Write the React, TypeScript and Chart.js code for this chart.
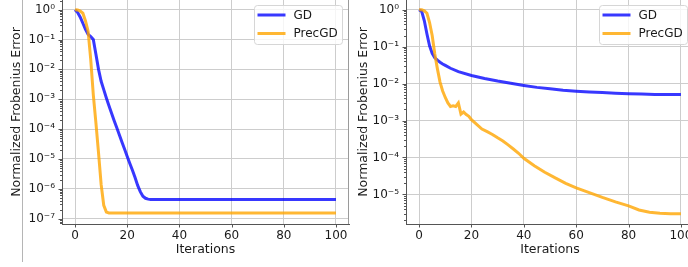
import React, { useEffect, useRef } from 'react';
import { Chart, registerables } from 'chart.js';

Chart.register(...registerables);

// ---------- data ----------
const seriesNames = ['GD', 'PrecGD'];
const xTickValues = [0, 20, 40, 60, 80, 100];

const leftYTickValues = [1, 1e-1, 1e-2, 1e-3, 1e-4, 1e-5, 1e-6, 1e-7];
const leftYTickLabels = ['10⁰', '10⁻¹', '10⁻²', '10⁻³', '10⁻⁴', '10⁻⁵', '10⁻⁶', '10⁻⁷'];
const rightYTickValues = [1, 1e-1, 1e-2, 1e-3, 1e-4, 1e-5];
const rightYTickLabels = ['10⁰', '10⁻¹', '10⁻²', '10⁻³', '10⁻⁴', '10⁻⁵'];

const leftGDIters = [0, 1, 2, 3, 4, 5, 6, 7, 8, 9, 10, 11, 12, 13, 14, 15, 16, 17, 18, 19, 20, 21, 22, 23, 24, 25, 26, 27, 28, 29, 30, 40, 50, 60, 70, 80, 90, 100];
const leftGDError = [1, 0.8, 0.56, 0.35, 0.22, 0.15, 0.125, 0.1, 0.032, 0.01, 4e-3, 2.1e-3, 1.1e-3, 6e-4, 3.4e-4, 1.9e-4, 1.1e-4, 6.3e-5, 3.6e-5, 2.1e-5, 1.2e-5, 7e-6, 4.2e-6, 2.4e-6, 1.3e-6, 8e-7, 5.6e-7, 4.8e-7, 4.5e-7, 4.4e-7, 4.4e-7, 4.4e-7, 4.4e-7, 4.4e-7, 4.4e-7, 4.4e-7, 4.4e-7, 4.4e-7];

const leftPrecIters = [0, 1, 2, 3, 4, 5, 6, 7, 8, 9, 10, 11, 12, 13, 20, 30, 40, 50, 60, 70, 80, 90, 100];
const leftPrecError = [1, 0.98, 0.9, 0.76, 0.42, 0.19, 0.022, 1.4e-3, 1.6e-4, 1.6e-5, 1.4e-6, 2.8e-7, 1.66e-7, 1.55e-7, 1.55e-7, 1.55e-7, 1.55e-7, 1.55e-7, 1.55e-7, 1.55e-7, 1.55e-7, 1.55e-7, 1.55e-7];

const rightGDIters = [0, 1, 2, 3, 4, 5, 6, 7, 8, 9, 10, 12, 15, 20, 25, 30, 35, 40, 45, 50, 55, 60, 65, 70, 75, 80, 85, 90, 95, 100];
const rightGDError = [1, 0.9, 0.5, 0.22, 0.105, 0.066, 0.05, 0.043, 0.038, 0.034, 0.031, 0.026, 0.021, 0.0166, 0.0138, 0.0117, 0.0102, 0.0089, 0.0079, 0.0072, 0.0066, 0.0062, 0.0059, 0.0057, 0.0055, 0.0053, 0.0052, 0.0051, 0.0051, 0.0051];

const rightPrecIters = [0, 1, 2, 3, 4, 5, 6, 7, 8, 9, 10, 11, 12, 13, 14, 15, 16, 17, 18, 19, 20, 22, 24, 26, 28, 30, 32, 34, 36, 38, 40, 44, 48, 52, 56, 60, 65, 70, 75, 80, 84, 88, 92, 96, 100];
const rightPrecError = [1, 1, 0.93, 0.8, 0.45, 0.2, 0.063, 0.025, 0.011, 6.3e-3, 4.2e-3, 3.0e-3, 2.4e-3, 2.5e-3, 2.4e-3, 3.0e-3, 1.5e-3, 1.7e-3, 1.45e-3, 1.3e-3, 1.05e-3, 7.9e-4, 5.9e-4, 5.0e-4, 4.2e-4, 3.4e-4, 2.8e-4, 2.2e-4, 1.7e-4, 1.3e-4, 9.5e-5, 6.0e-5, 4.0e-5, 2.8e-5, 2.0e-5, 1.5e-5, 1.12e-5, 8.3e-6, 6.3e-6, 4.9e-6, 3.8e-6, 3.3e-6, 3.1e-6, 3.0e-6, 3.0e-6];

// ---------- styling ----------
const FONT = '"DejaVu Sans", sans-serif';
const GD_COLOR = 'rgba(0,0,255,0.78)';
const PREC_COLOR = 'rgba(255,165,0,0.8)';
const TEXT_COLOR = '#1a1a1a';
const GRID_COLOR = '#cdcdcd';
const SPINE_COLOR = '#555555';

const zip = (xs: number[], ys: number[]) => xs.map((x, i) => ({ x, y: ys[i] }));

type PanelProps = {
  canvasLeft: number;
  canvasWidth: number;
  areaRight: number;
  yAxisWidth: number;
  yMinExp: number;
  yMaxExp: number;
  yTickValues: number[];
  yTickLabels: string[];
  gdIters: number[];
  gdError: number[];
  precIters: number[];
  precError: number[];
  yTitlePad: number;
};

function Panel(p: PanelProps) {
  const ref = useRef<HTMLCanvasElement | null>(null);
  useEffect(() => {
    if (!ref.current) return;
    const H = 267;
    const extras = {
      id: 'extras',
      afterDraw(chart: any) {
        const ctx = chart.ctx;
        const ca = chart.chartArea;
        const ys = chart.scales.y;
        const xs = chart.scales.x;
        ctx.save();
        // right & top spines
        ctx.strokeStyle = '#9a9a9a';
        ctx.lineWidth = 1;
        ctx.beginPath();
        ctx.moveTo(Math.round(ca.right) - 0.5, ca.top);
        ctx.lineTo(Math.round(ca.right) - 0.5, ca.bottom);
        ctx.stroke();
        // tick marks
        ctx.strokeStyle = SPINE_COLOR;
        ctx.beginPath();
        for (const v of p.yTickValues) {
          const y = Math.round(ys.getPixelForValue(v)) + 0.5;
          ctx.moveTo(ca.left - 3.5, y);
          ctx.lineTo(ca.left, y);
        }
        for (let e = Math.floor(p.yMinExp); e <= Math.ceil(p.yMaxExp); e++) {
          for (let k = 2; k <= 9; k++) {
            const v = k * Math.pow(10, e);
            if (Math.log10(v) < p.yMinExp || Math.log10(v) > p.yMaxExp) continue;
            const y = Math.round(ys.getPixelForValue(v)) + 0.5;
            ctx.moveTo(ca.left - 2, y);
            ctx.lineTo(ca.left, y);
          }
        }
        for (const v of xTickValues) {
          const x = Math.round(xs.getPixelForValue(v)) + 0.5;
          ctx.moveTo(x, ca.bottom);
          ctx.lineTo(x, ca.bottom + 3.5);
        }
        ctx.stroke();
        // legend
        const bw = 88, bh = 39;
        const bx = Math.round(ca.right - 7 - bw) + 0.5;
        const by = 5.5;
        ctx.fillStyle = 'rgba(255,255,255,0.8)';
        ctx.strokeStyle = '#d6d6d6';
        ctx.lineWidth = 1;
        ctx.beginPath();
        (ctx as any).roundRect(bx, by, bw, bh, 3);
        ctx.fill();
        ctx.stroke();
        const rows = [
          { name: seriesNames[0], color: GD_COLOR, y: 15 },
          { name: seriesNames[1], color: PREC_COLOR, y: 33.5 },
        ];
        ctx.font = `12px ${FONT}`;
        ctx.textBaseline = 'middle';
        ctx.textAlign = 'left';
        for (const r of rows) {
          ctx.strokeStyle = r.color;
          ctx.lineWidth = 3;
          ctx.beginPath();
          ctx.moveTo(bx + 3, r.y);
          ctx.lineTo(bx + 31, r.y);
          ctx.stroke();
          ctx.fillStyle = TEXT_COLOR;
          ctx.fillText(r.name, bx + 39, r.y + 0.5);
        }
        ctx.restore();
      },
    };

    const chart = new Chart(ref.current, {
      type: 'line',
      data: {
        datasets: [
          {
            label: seriesNames[0],
            data: zip(p.gdIters, p.gdError),
            borderColor: GD_COLOR,
            borderWidth: 3,
            pointRadius: 0,
            fill: false,
            tension: 0,
            order: 1,
          },
          {
            label: seriesNames[1],
            data: zip(p.precIters, p.precError),
            borderColor: PREC_COLOR,
            borderWidth: 3,
            pointRadius: 0,
            fill: false,
            tension: 0,
            order: 0,
          },
        ],
      },
      options: {
        responsive: false,
        maintainAspectRatio: false,
        animation: false,
        events: [],
        layout: { padding: { left: 0, top: 0, right: p.canvasWidth - p.areaRight, bottom: 0 } },
        plugins: { legend: { display: false }, tooltip: { enabled: false } },
        scales: {
          x: {
            type: 'linear',
            min: -5,
            max: 105,
            afterBuildTicks: (s: any) => {
              s.ticks = xTickValues.map((v) => ({ value: v }));
            },
            afterFit: (s: any) => {
              s.height = H - 224;
              s.paddingLeft = 0;
              s.paddingRight = 0;
            },
            ticks: {
              autoSkip: false,
              maxRotation: 0,
              padding: 5,
              color: TEXT_COLOR,
              font: { family: FONT, size: 12 },
              callback: (v: any) => String(v),
            },
            grid: { color: GRID_COLOR, lineWidth: 1, drawTicks: false },
            border: { display: true, color: SPINE_COLOR, width: 1 },
            title: {
              display: true,
              text: 'Iterations',
              color: TEXT_COLOR,
              font: { family: FONT, size: 12.5, lineHeight: 1.2 },
              padding: { top: 0, bottom: 10.2 },
            },
          },
          y: {
            type: 'logarithmic',
            bounds: 'data',
            min: Math.pow(10, p.yMinExp),
            max: Math.pow(10, p.yMaxExp),
            afterBuildTicks: (s: any) => {
              s.ticks = p.yTickValues.map((v) => ({ value: v }));
            },
            afterFit: (s: any) => {
              s.width = p.yAxisWidth;
              s.paddingTop = 0;
              s.paddingBottom = 0;
            },
            ticks: {
              autoSkip: false,
              padding: 7,
              color: TEXT_COLOR,
              font: { family: FONT, size: 12 },
              callback: (v: any) => {
                const i = p.yTickValues.findIndex((t) => Math.abs(t - v) <= t * 1e-6);
                return i >= 0 ? p.yTickLabels[i] : '';
              },
            },
            grid: { color: GRID_COLOR, lineWidth: 1, drawTicks: false },
            border: { display: true, color: SPINE_COLOR, width: 1 },
            title: {
              display: true,
              text: 'Normalized Frobenius Error',
              color: TEXT_COLOR,
              font: { family: FONT, size: 12.5, lineHeight: 1.2 },
              padding: { top: p.yTitlePad, bottom: 0 },
            },
          },
        },
      },
      plugins: [extras],
    } as any);
    return () => chart.destroy();
  }, []);
  return (
    <canvas
      ref={ref}
      width={p.canvasWidth}
      height={267}
      style={{ position: 'absolute', left: p.canvasLeft, top: 0, width: p.canvasWidth, height: 267 }}
    />
  );
}

export default function App() {
  useEffect(() => {
    document.body.style.margin = '0';
  }, []);
  return (
    <div style={{ position: 'absolute', left: 0, top: 0, width: 688, height: 267, overflow: 'hidden', background: '#fff' }}>
      <div style={{ position: 'absolute', left: 22, top: 0, width: 1, height: 262, background: '#b5b5b5' }} />
      <Panel
        canvasLeft={0}
        canvasWidth={352}
        areaRight={349}
        yAxisWidth={62}
        yMinExp={-7.18}
        yMaxExp={0.324}
        yTickValues={leftYTickValues}
        yTickLabels={leftYTickLabels}
        gdIters={leftGDIters}
        gdError={leftGDError}
        precIters={leftPrecIters}
        precError={leftPrecError}
        yTitlePad={9.5}
      />
      <Panel
        canvasLeft={344}
        canvasWidth={352}
        areaRight={350}
        yAxisWidth={62}
        yMinExp={-5.8}
        yMaxExp={0.262}
        yTickValues={rightYTickValues}
        yTickLabels={rightYTickLabels}
        gdIters={rightGDIters}
        gdError={rightGDError}
        precIters={rightPrecIters}
        precError={rightPrecError}
        yTitlePad={12}
      />
    </div>
  );
}
